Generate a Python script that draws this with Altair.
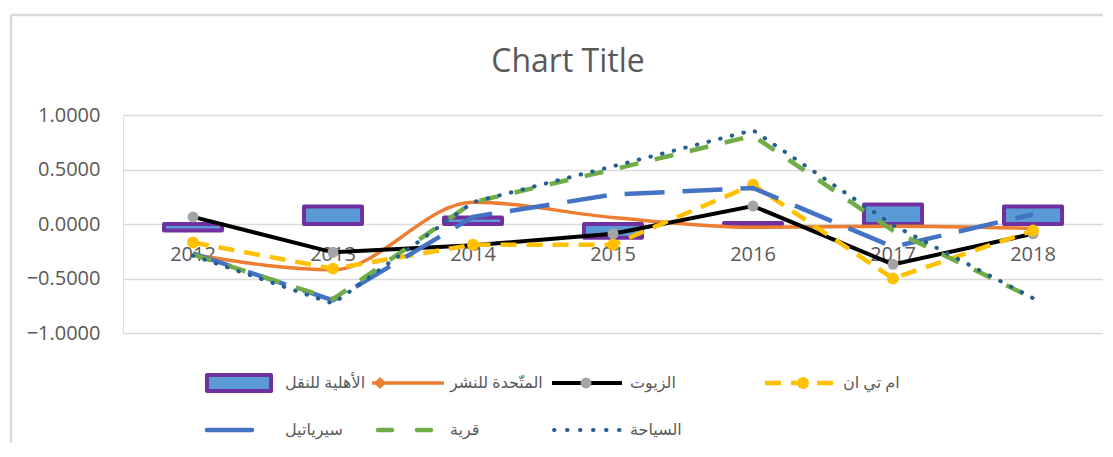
import altair as alt
import pandas as pd

years = ["2012", "2013", "2014", "2015", "2016", "2017", "2018"]
names = ["الأهلية للنقل", "المتّحدة للنشر", "الزيوت", "ام تي ان", "سيرياتيل", "قرية", "السياحة"]

ahlia = [-0.06, 0.16, 0.06, -0.125, 0.01, 0.18, 0.16]
mutahida = [-0.28, -0.42, 0.20, 0.06, -0.03, -0.02, -0.04]
zuyut = [0.065, -0.26, -0.195, -0.09, 0.165, -0.37, -0.09]
mtn = [-0.17, -0.41, -0.19, -0.19, 0.36, -0.50, -0.06]
syriatel = [-0.27, -0.70, 0.066, 0.27, 0.33, -0.21, 0.09]
qarya = [-0.28, -0.69, 0.20, 0.50, 0.81, -0.06, -0.68]
siyaha = [-0.29, -0.73, 0.20, 0.53, 0.86, -0.01, -0.68]

series_values = [ahlia, mutahida, zuyut, mtn, syriatel, qarya, siyaha]
y_ticks = [-1.0, -0.5, 0.0, 0.5, 1.0]

rows = []
for n, vals in zip(names, series_values):
    for yr, v in zip(years, vals):
        rows.append({"name": n, "year": yr, "value": v})
df = pd.DataFrame(rows)

leg = pd.DataFrame({"name": names,
                    "col": [i % 4 for i in range(len(names))],
                    "row": [i // 4 for i in range(len(names))]})

W, H = 980, 218
FONT = "Open Sans, DejaVu Sans, sans-serif"
GRAY = "#595959"

x_enc = alt.X("year:N", sort=years, title=None,
              scale=alt.Scale(paddingInner=0.586, paddingOuter=0.293),
              axis=alt.Axis(orient="bottom", offset=-H / 2, domain=False, ticks=False,
                            labelPadding=20, labelAngle=0, labelFontSize=20,
                            labelColor=GRAY, labelFont=FONT, grid=False))
y_enc = alt.Y("value:Q", title=None,
              scale=alt.Scale(domain=[-1, 1], nice=False, zero=False),
              axis=alt.Axis(values=y_ticks, format=".4f", domain=False, ticks=False,
                            labelPadding=23, labelFontSize=20, labelColor=GRAY,
                            labelFont=FONT, gridColor="#d9d9d9", gridWidth=1.5))

base = alt.Chart(df).encode(x=x_enc, y=y_enc)


def sel(i):
    return base.transform_filter(alt.datum.name == names[i])


bars = sel(0).mark_bar(fill="#5B9BD5", stroke="#7030A0", strokeWidth=4, strokeJoin="round")


def line(i, color, width, dash=None, interp="linear", cap="butt"):
    kw = dict(color=color, strokeWidth=width, interpolate=interp, strokeCap=cap)
    if dash is not None:
        kw["strokeDash"] = dash
    return sel(i).mark_line(**kw)


orange = line(1, "#ED7D31", 3.5, interp="monotone")
black = line(2, "#000000", 4)
black_pts = sel(2).mark_point(filled=True, color="#A5A5A5", size=120, opacity=1)
yellow = line(3, "#FFC000", 4.5, dash=[16, 10])
yellow_pts = sel(3).mark_point(filled=True, color="#FFC000", size=140, opacity=1)
blue = line(4, "#4472C4", 4.5, dash=[40, 18])
green = line(5, "#70AD47", 4.5, dash=[19, 17])
dotted = line(6, "#255E91", 4, dash=[0.5, 11.5], cap="round")

main = alt.layer(bars, orange, black, black_pts, yellow, yellow_pts, blue, green, dotted)

# custom legend
lx = alt.X("col:Q", scale=alt.Scale(domain=[0, 1, 2, 3], range=[84, 249, 429, 642],
                                    zero=False, nice=False), axis=None)
ly = alt.Y("row:Q", scale=alt.Scale(domain=[0, 1], range=[268, 315], zero=False, nice=False),
           axis=None)
lbase = alt.Chart(leg).encode(x=lx, y=ly)


def lsel(i):
    return lbase.transform_filter(alt.datum.name == names[i])


SYM = 72
leg_layers = [
    lsel(0).mark_rect(fill="#5B9BD5", stroke="#7030A0", strokeWidth=4, strokeJoin="round",
                      x2Offset=64, yOffset=-8, y2Offset=8).encode(x2="col:Q", y2="row:Q"),
    lsel(1).mark_rule(color="#ED7D31", strokeWidth=3.5, x2Offset=SYM).encode(x2="col:Q"),
    lsel(1).mark_point(shape="diamond", filled=True, color="#ED7D31", size=150, opacity=1,
                       xOffset=8),
    lsel(2).mark_rule(color="#000000", strokeWidth=4, x2Offset=70).encode(x2="col:Q"),
    lsel(2).mark_point(filled=True, color="#A5A5A5", size=120, opacity=1, xOffset=34),
    lsel(3).mark_rule(color="#FFC000", strokeWidth=4.5, strokeDash=[16, 10],
                      x2Offset=76).encode(x2="col:Q"),
    lsel(3).mark_point(filled=True, color="#FFC000", size=140, opacity=1, xOffset=38),
    lsel(4).mark_rule(color="#4472C4", strokeWidth=4.5, strokeDash=[45, 30], strokeCap="round",
                      x2Offset=SYM).encode(x2="col:Q"),
    lsel(5).mark_rule(color="#70AD47", strokeWidth=4.5, strokeDash=[14, 25], strokeCap="round",
                      xOffset=6, x2Offset=SYM).encode(x2="col:Q"),
    lsel(6).mark_rule(color="#255E91", strokeWidth=4, strokeDash=[0.5, 12.5], strokeCap="round",
                      xOffset=2, x2Offset=68).encode(x2="col:Q"),
    lbase.mark_text(align="left", baseline="middle", dx=78, fontSize=16, color=GRAY,
                    font=FONT).encode(text="name:N"),
]
legend = alt.layer(*leg_layers)

one = pd.DataFrame({"a": [0]})
frame = alt.layer(
    alt.Chart(one).mark_rule(color="#d9d9d9", strokeWidth=2.5).encode(
        x=alt.value(-112), x2=alt.value(1000), y=alt.value(-100)),
    alt.Chart(one).mark_rule(color="#d9d9d9", strokeWidth=2.5).encode(
        x=alt.value(-112), y=alt.value(-100), y2=alt.value(400)),
)

chart = alt.layer(frame, main, legend).resolve_scale(
    x="independent", y="independent"
).properties(
    width=W, height=H,
    autosize=alt.AutoSizeParams(type="none"),
    padding={"left": 115, "top": 107, "right": 0, "bottom": 110},
    title=alt.TitleParams("Chart Title", fontSize=32, font=FONT, color=GRAY,
                          fontWeight="normal", anchor="middle", dx=-45,
                          frame="group", baseline="alphabetic", offset=-90),
).configure_view(stroke=None).configure(background="white")

chart.save("out.html", embed_options={"renderer": "svg", "actions": False})
